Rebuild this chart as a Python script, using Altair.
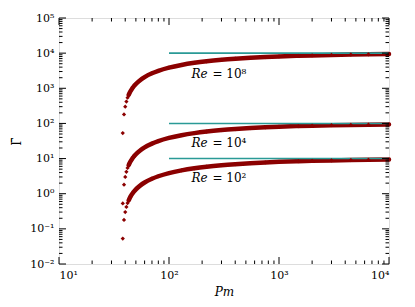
import altair as alt
import pandas as pd

# ---- data ----
pm = [38, 39, 40, 41, 42, 43, 44, 45, 46, 47, 48, 49, 50, 55, 60, 70, 80, 100, 130, 170,
      220, 300, 400, 550, 750, 1000, 1500, 2000, 3000, 4500, 6500, 10000]
gamma_re2 = [0.053, 0.18, 0.30, 0.42, 0.54, 0.65, 0.76, 0.86, 0.96, 1.06, 1.15, 1.24, 1.33,
             1.73, 2.08, 2.67, 3.14, 3.87, 4.62, 5.30, 5.87, 6.46, 6.93, 7.39, 7.76, 8.06,
             8.42, 8.63, 8.88, 9.09, 9.24, 9.39]
gamma_re4 = [0.53, 1.8, 3.0, 4.2, 5.4, 6.5, 7.6, 8.6, 9.6, 10.6, 11.5, 12.4, 13.3,
             17.3, 20.8, 26.7, 31.4, 38.7, 46.2, 53.0, 58.7, 64.6, 69.3, 73.9, 77.6, 80.6,
             84.2, 86.3, 88.8, 90.9, 92.4, 93.9]
gamma_re8 = [53, 180, 300, 420, 540, 650, 760, 860, 960, 1060, 1150, 1240, 1330,
             1730, 2080, 2670, 3140, 3870, 4620, 5300, 5870, 6460, 6930, 7390, 7760, 8060,
             8420, 8630, 8880, 9090, 9240, 9390]
series_names = ["Re=1e2", "Re=1e4", "Re=1e8"]

ref_gamma = [10, 100, 10000]
ref_pm_start = [100, 100, 100]
ref_pm_end = [10000, 10000, 10000]

label_pm = [160, 160, 160]
label_gamma = [2.74, 27, 2570]
label_rest = ["= 10²", "= 10⁴", "= 10⁸"]

x_major = [10, 100, 1000, 10000]
x_minor = [m * 10 ** e for e in (1, 2, 3) for m in range(2, 10)]
y_major = [10.0 ** e for e in range(-2, 6)]
y_minor = [m * 10.0 ** e for e in range(-2, 5) for m in range(2, 10)]

# ---- build tables ----
rows = []
for name, g in zip(series_names, [gamma_re2, gamma_re4, gamma_re8]):
    for p, v in zip(pm, g):
        rows.append({"Pm": p, "Gamma": v, "series": name})
df = pd.DataFrame(rows)
ref_df = pd.DataFrame({"x1": ref_pm_start, "x2": ref_pm_end, "y": ref_gamma})
lab_df = pd.DataFrame({"x": label_pm, "y": label_gamma, "rest": label_rest})

W, H = 330, 246
SERIF = "DejaVu Serif"
RED = "#8b0000"
TEAL = "#2a9a96"

xs = alt.Scale(type="log", domain=[10, 10000], nice=False)
ys = alt.Scale(type="log", domain=[0.01, 100000], nice=False)

xaxis = alt.Axis(values=x_major, ticks=False, domain=False, grid=False,
                 labelExpr="'10' + ['¹','²','³','⁴'][round(log(datum.value)/LN10)-1]",
                 labelFont=SERIF, labelFontSize=11, labelColor="black", labelPadding=5,
                 title="Pm", titleFont=SERIF, titleFontStyle="italic",
                 titleFontWeight="normal", titleFontSize=12, titleColor="black",
                 titlePadding=6)
yaxis = alt.Axis(values=y_major, ticks=False, domain=False, grid=False,
                 labelExpr="'10' + ['⁻²','⁻¹','⁰','¹','²','³','⁴','⁵'][round(log(datum.value)/LN10)+2]",
                 labelFont=SERIF, labelFontSize=11, labelColor="black", labelPadding=5,
                 title="Γ̄", titleFont=SERIF, titleFontWeight="normal",
                 titleFontSize=12, titleColor="black", titlePadding=6)

base = alt.Chart(df)

lines = base.transform_filter(alt.datum.Pm >= 43).mark_line(
    color=RED, strokeWidth=4.5, interpolate="monotone", strokeCap="round"
).encode(
    x=alt.X("Pm:Q", scale=xs, axis=xaxis),
    y=alt.Y("Gamma:Q", scale=ys, axis=yaxis),
    detail="series:N",
)

points = base.mark_point(shape="diamond", filled=True, color=RED, size=18, opacity=1).encode(
    x=alt.X("Pm:Q", scale=xs),
    y=alt.Y("Gamma:Q", scale=ys),
)

refs = alt.Chart(ref_df).mark_rule(color=TEAL, strokeWidth=1.6).encode(
    x=alt.X("x1:Q", scale=xs), x2="x2:Q", y=alt.Y("y:Q", scale=ys)
)

lab_re = alt.Chart(lab_df).mark_text(
    text="Re", font=SERIF, fontStyle="italic", fontSize=12, align="left",
    baseline="middle", color="black"
).encode(x=alt.X("x:Q", scale=xs), y=alt.Y("y:Q", scale=ys))

lab_rest = alt.Chart(lab_df).mark_text(
    font=SERIF, fontSize=12, align="left", baseline="middle", color="black", dx=21
).encode(x=alt.X("x:Q", scale=xs), y=alt.Y("y:Q", scale=ys), text="rest:N")


def xticks(vals, length, top):
    d = pd.DataFrame({"v": vals})
    if top:
        yy, yy2 = alt.value(0), alt.value(length)
    else:
        yy, yy2 = alt.value(H), alt.value(H - length)
    return alt.Chart(d).mark_rule(color="black", strokeWidth=1).encode(
        x=alt.X("v:Q", scale=xs), y=yy, y2=yy2)


def yticks(vals, length, right):
    d = pd.DataFrame({"v": vals})
    if right:
        xx, xx2 = alt.value(W), alt.value(W - length)
    else:
        xx, xx2 = alt.value(0), alt.value(length)
    return alt.Chart(d).mark_rule(color="black", strokeWidth=1).encode(
        y=alt.Y("v:Q", scale=ys), x=xx, x2=xx2)


tick_layers = [
    xticks(x_major, 7, False), xticks(x_minor, 3.5, False),
    xticks(x_major, 7, True), xticks(x_minor, 3.5, True),
    yticks(y_major, 7, False), yticks(y_minor, 3.5, False),
    yticks(y_major, 7, True), yticks(y_minor, 3.5, True),
]

chart = alt.layer(lines, refs, points, lab_re, lab_rest, *tick_layers).properties(
    width=W, height=H,
    padding={"left": 51, "top": 10, "right": 18, "bottom": 35},
    autosize=alt.AutoSizeParams(type="none"),
).configure_view(stroke="black", strokeWidth=1.2).configure(background="white")

chart.save("out.html", embed_options={"renderer": "svg", "actions": False})
